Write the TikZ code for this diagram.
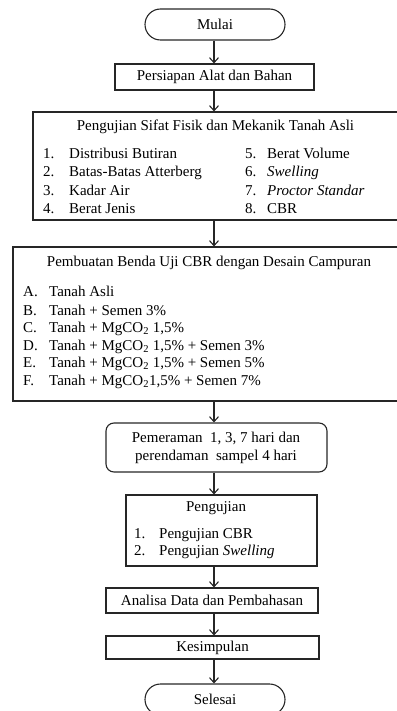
\documentclass[tikz,border=0pt]{standalone}
\usepackage{fontspec}
\setmainfont{Liberation Serif}
\usetikzlibrary{arrows.meta}
\begin{document}
\begin{tikzpicture}[x=1pt,y=-1pt,
  box/.style={draw=black!85, line width=1.1pt, rectangle, inner sep=0pt, font=\fontsize{15}{17}\selectfont},
  term/.style={box, rounded corners=15.5pt},
  txt/.style={inner sep=0pt, text height=10pt, text depth=3pt, font=\fontsize{15}{17}\selectfont},
  arr/.style={draw=black!85, line width=1.1pt, -{Straight Barb[length=5pt,width=9pt,line width=1.1pt]}}
]
\useasboundingbox (0,0) rectangle (396,711);
\coordinate (axis) at (214,0);
% boxes
\node[term, minimum width=140pt, minimum height=31pt] (mulai) at (215,24.5) {Mulai};
\node[box, minimum width=199pt, minimum height=26pt] (persiapan) at (214.5,77) {Persiapan Alat dan Bahan};
\node[box, minimum width=367pt, minimum height=108pt] (sifat) at (216.5,166) {};
\node[box, minimum width=387pt, minimum height=154pt] (buat) at (206.5,324) {};
\node[box, rounded corners=8pt, minimum width=221pt, minimum height=49pt] (peram) at (216.5,447.5) {};
\node[box, minimum width=191pt, minimum height=71pt] (uji) at (221.5,530.5) {};
\node[box, minimum width=212pt, minimum height=25pt] (analisa) at (212,600.5) {Analisa Data dan Pembahasan};
\node[box, minimum width=213pt, minimum height=23pt] (simpul) at (212.5,647.5) {Kesimpulan};
\node[term, minimum width=140pt, minimum height=31pt] (selesai) at (215,699.5) {Selesai};
% Sifat fisik
\node[txt] (sifatT) at (215.5,127) {Pengujian Sifat Fisik dan Mekanik Tanah Asli};
\node[txt, anchor=west] (n1) at (43,155) {1.};
\node[txt, anchor=west] (t1) at (69,155) {Distribusi Butiran};
\node[txt, anchor=west] (n2) at (43,173) {2.};
\node[txt, anchor=west] (t2) at (69,173) {Batas-Batas Atterberg};
\node[txt, anchor=west] (n3) at (43,192) {3.};
\node[txt, anchor=west] (t3) at (69,192) {Kadar Air};
\node[txt, anchor=west] (n4) at (43,210) {4.};
\node[txt, anchor=west] (t4) at (69,210) {Berat Jenis};
\node[txt, anchor=west] (n5) at (245,155) {5.};
\node[txt, anchor=west] (t5) at (267,155) {Berat Volume};
\node[txt, anchor=west] (n6) at (245,173) {6.};
\node[txt, anchor=west] (t6) at (267,173) {\textit{Swelling}};
\node[txt, anchor=west] (n7) at (245,192) {7.};
\node[txt, anchor=west] (t7) at (267,192) {\textit{Proctor Standar}};
\node[txt, anchor=west] (n8) at (245,210) {8.};
\node[txt, anchor=west] (t8) at (267,210) {CBR};
% Pembuatan
\node[txt] (buatT) at (209,263) {Pembuatan Benda Uji CBR dengan Desain Campuran};
\node[txt, anchor=west] (lA) at (23,293) {A.};
\node[txt, anchor=west] (bA) at (49,293) {Tanah Asli};
\node[txt, anchor=west] (lB) at (23,312) {B.};
\node[txt, anchor=west] (bB) at (49,312) {Tanah + Semen 3\%};
\node[txt, anchor=west] (lC) at (23,329) {C.};
\node[txt, anchor=west] (bC) at (49,329) {Tanah + MgCO\textsubscript{2} 1,5\%};
\node[txt, anchor=west] (lD) at (23,347) {D.};
\node[txt, anchor=west] (bD) at (49,347) {Tanah + MgCO\textsubscript{2} 1,5\% + Semen 3\%};
\node[txt, anchor=west] (lE) at (23,364) {E.};
\node[txt, anchor=west] (bE) at (49,364) {Tanah + MgCO\textsubscript{2} 1,5\% + Semen 5\%};
\node[txt, anchor=west] (lF) at (23,382) {F.};
\node[txt, anchor=west] (bF) at (49,382) {Tanah + MgCO\textsubscript{2}1,5\% + Semen 7\%};
% Pemeraman
\node[txt] (p1) at (216,439) {Pemeraman\ \ 1, 3, 7 hari dan};
\node[txt] (p2) at (216,457) {perendaman\ \ sampel 4 hari};
% Pengujian
\node[txt] (ujiT) at (216,508) {Pengujian};
\node[txt, anchor=west] (u1n) at (134,535) {1.};
\node[txt, anchor=west] (u1) at (159,535) {Pengujian CBR};
\node[txt, anchor=west] (u2n) at (134,552) {2.};
\node[txt, anchor=west] (u2) at (159,552) {Pengujian \textit{Swelling}};
% arrows
\draw[arr] (mulai.south -| axis) -- (persiapan.north -| axis);
\draw[arr] (persiapan.south -| axis) -- (sifat.north -| axis);
\draw[arr] (sifat.south -| axis) -- (buat.north -| axis);
\draw[arr] (buat.south -| axis) -- (peram.north -| axis);
\draw[arr] (peram.south -| axis) -- (uji.north -| axis);
\draw[arr] (uji.south -| axis) -- (analisa.north -| axis);
\draw[arr] (analisa.south -| axis) -- (simpul.north -| axis);
\draw[arr] (simpul.south -| axis) -- (selesai.north -| axis);
\end{tikzpicture}
\end{document}
